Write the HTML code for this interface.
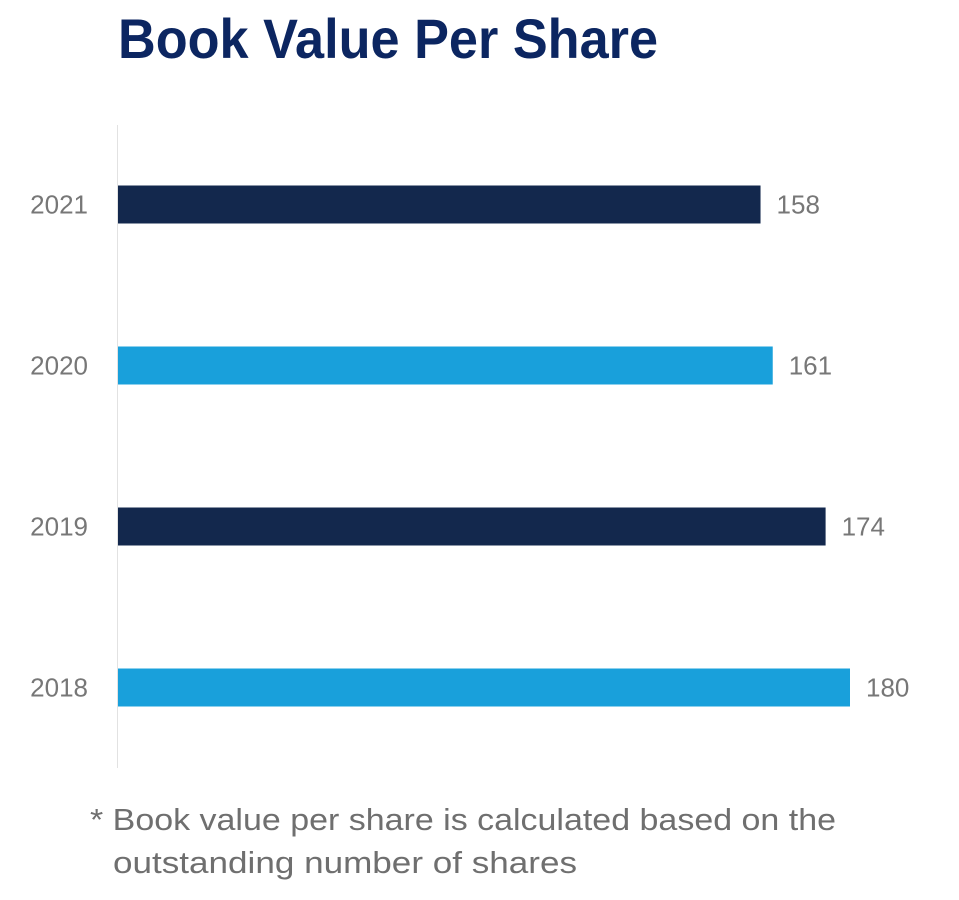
<!DOCTYPE html>
<html><head><meta charset="utf-8"><style>
html,body{margin:0;padding:0;background:#fff;}
svg{display:block;font-family:"Liberation Sans",sans-serif;}
</style></head><body>
<svg id="chart" width="959" height="900" viewBox="0 0 959 900">
<text x="118" y="58" font-size="56" font-weight="bold" fill="#0c2661" textLength="540" lengthAdjust="spacingAndGlyphs">Book Value Per Share</text>
<line x1="117.5" y1="125" x2="117.5" y2="768" stroke="#e2e2e2" stroke-width="1"/>
<g id="bars"></g>
<text x="90" y="830" font-size="31" fill="#6f6f6f" textLength="746" lengthAdjust="spacingAndGlyphs">* Book value per share is calculated based on the</text>
<text x="113" y="873" font-size="31" fill="#6f6f6f" textLength="464" lengthAdjust="spacingAndGlyphs">outstanding number of shares</text>
</svg>
<script>
const categories = ["2021", "2020", "2019", "2018"];
const values = [158, 161, 174, 180];
const valueLabels = ["158", "161", "174", "180"];
const colors = ["#13284d", "#19a0db", "#13284d", "#19a0db"];

const x0 = 118, pxPerUnit = 732 / 180;
function xScale(v){ return x0 + v * pxPerUnit; }
const yTop = 125, band = 161;
function yCenter(i){ return yTop + band * i + band / 2 - 1; }
const barH = 38;
const ns = "http://www.w3.org/2000/svg";
const g = document.getElementById("bars");
categories.forEach((c, i) => {
  const cy = yCenter(i);
  const r = document.createElementNS(ns, "rect");
  r.setAttribute("x", x0);
  r.setAttribute("y", cy - barH / 2);
  r.setAttribute("width", xScale(values[i]) - x0);
  r.setAttribute("height", barH);
  r.setAttribute("fill", colors[i]);
  
  
  g.appendChild(r);
  const t = document.createElementNS(ns, "text");
  t.setAttribute("x", 88);
  t.setAttribute("y", cy + 9);
  t.setAttribute("text-anchor", "end");
  t.setAttribute("font-size", "26");
  t.setAttribute("fill", "#777");
  t.textContent = c;
  
  
  g.appendChild(t);
  const v = document.createElementNS(ns, "text");
  v.setAttribute("x", xScale(values[i]) + 16);
  v.setAttribute("y", cy + 9);
  v.setAttribute("font-size", "26");
  v.setAttribute("fill", "#777");
  v.textContent = valueLabels[i];
  
  
  g.appendChild(v);
});
</script>
</body></html>
